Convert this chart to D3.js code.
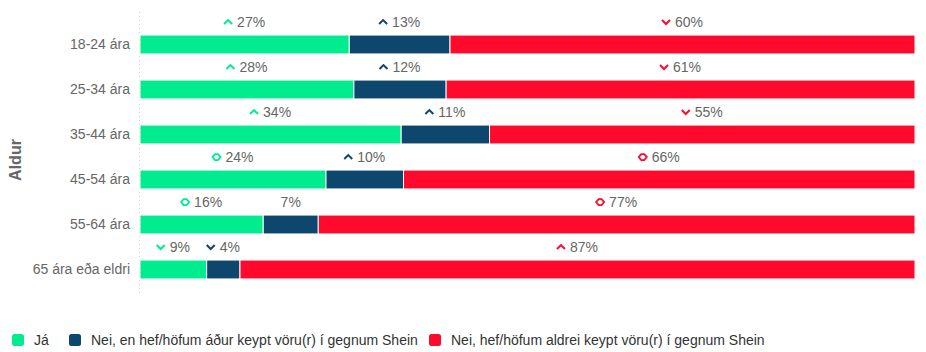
<!DOCTYPE html>
<html><head><meta charset="utf-8">
<script src="https://cdn.jsdelivr.net/npm/d3@7"></script>
<style>
html,body{margin:0;padding:0;background:#fff;}
svg{display:block;font-family:"Liberation Sans",Arial,sans-serif;}
</style></head>
<body><svg id="c" width="926" height="352"></svg>
<script>
const categories = ["18-24 ára","25-34 ára","35-44 ára","45-54 ára","55-64 ára","65 ára eða eldri"];
const seriesNames = ["Já","Nei, en hef/höfum áður keypt vöru(r) í gegnum Shein","Nei, hef/höfum aldrei keypt vöru(r) í gegnum Shein"];
const seriesColors = ["#00ec8f","#0e476e","#ff0a2c"];
const jaValues = [27, 27.6, 33.7, 24, 15.9, 8.6];
const beforeValues = [13, 11.9, 11.4, 10, 7.1, 4.3];
const neverValues = [60, 60.5, 54.9, 66, 77, 87.1];
const jaTrend = ["up","up","up","same","same","down"];
const beforeTrend = ["up","up","up","up","none","down"];
const neverTrend = ["down","down","down","same","same","up"];
const axisTitle = "Aldur";

const values = [jaValues, beforeValues, neverValues];
const trends = [jaTrend, beforeTrend, neverTrend];
const svg = d3.select("#c");
const pLeft = 140, pRight = 915, pTop = 22, pBottom = 292;

const y = d3.scaleBand().domain(categories).range([pTop, pBottom]).paddingInner(0.58).paddingOuter(0.29);
const rows = categories.map((c,i)=>{
  const total = values[0][i]+values[1][i]+values[2][i];
  const x = d3.scaleLinear().domain([0,total]).range([pLeft,pRight]);
  let acc = 0;
  const segs = values.map((v,s)=>{const seg={s, x0:x(acc), x1:x(acc+v[i]), v:v[i], t:trends[s][i]}; acc+=v[i]; return seg;});
  return {c, segs};
});

// dotted axis line
svg.append("line").attr("x1",139.5).attr("x2",139.5).attr("y1",12).attr("y2",296)
  .attr("stroke","#c8d0d8").attr("stroke-dasharray","1,3");

// y axis labels
const yAxis = d3.axisLeft(y).tickSize(0).tickPadding(10);
const ga = svg.append("g").attr("transform",`translate(${pLeft},0)`).call(yAxis);
ga.select(".domain").remove();
ga.selectAll("text").attr("fill","#666").style("font-size","14px").style("font-family","'Liberation Sans',Arial,sans-serif");

svg.append("text").attr("transform","translate(21,160) rotate(-90)").attr("text-anchor","middle")
  .attr("fill","#666").style("font-size","16px").style("font-weight","bold").text(axisTitle);

const rowG = svg.selectAll("g.row").data(rows).join("g").attr("class","row")
  .attr("transform",d=>`translate(0,${y(d.c)})`);
rowG.selectAll("rect").data(d=>d.segs).join("rect")
  .attr("x",d=>d.x0).attr("width",d=>d.x1-d.x0).attr("y",0).attr("height",y.bandwidth())
  .attr("fill",d=>seriesColors[d.s]).attr("stroke","#fff").attr("stroke-width",1);

function drawIcon(g, t, color){
  if(t==="up") g.append("path").attr("d","M-4,2 L0,-2 L4,2").attr("fill","none").attr("stroke",color).attr("stroke-width",2);
  else if(t==="down") g.append("path").attr("d","M-4,-2 L0,2 L4,-2").attr("fill","none").attr("stroke",color).attr("stroke-width",2);
  else if(t==="same") g.append("path").attr("d","M-4,0 L-1.5,-3 L1.5,-3 L4,0 L1.5,3 L-1.5,3 Z").attr("fill","none").attr("stroke",color).attr("stroke-width",1.8);
}

rowG.each(function(d){
  const g = d3.select(this);
  d.segs.forEach(seg=>{
    const lg = g.append("g");
    const txt = lg.append("text").attr("fill","#666").style("font-size","14px").attr("y",-8)
      .text(Math.round(seg.v)+"%");
    const tw = txt.node().getComputedTextLength();
    const iw = seg.t==="none"?0:13;
    const cx = (seg.x0+seg.x1)/2;
    const start = cx - (iw+tw)/2;
    txt.attr("x", start+iw);
    if(iw){ const ig = lg.append("g").attr("transform",`translate(${start+4},${-13})`); drawIcon(ig, seg.t, seriesColors[seg.s]); }
  });
});

// legend
const legX = [12, 69, 429];
const lg = svg.selectAll("g.leg").data(seriesNames).join("g").attr("class","leg")
  .attr("transform",(d,i)=>`translate(${legX[i]},340)`);
lg.append("rect").attr("x",0).attr("y",-6).attr("width",12).attr("height",12).attr("rx",2.5).attr("fill",(d,i)=>seriesColors[i]);
lg.append("text").attr("x",22).attr("y",5).attr("fill","#333").style("font-size","14px").text(d=>d);
</script></body></html>
